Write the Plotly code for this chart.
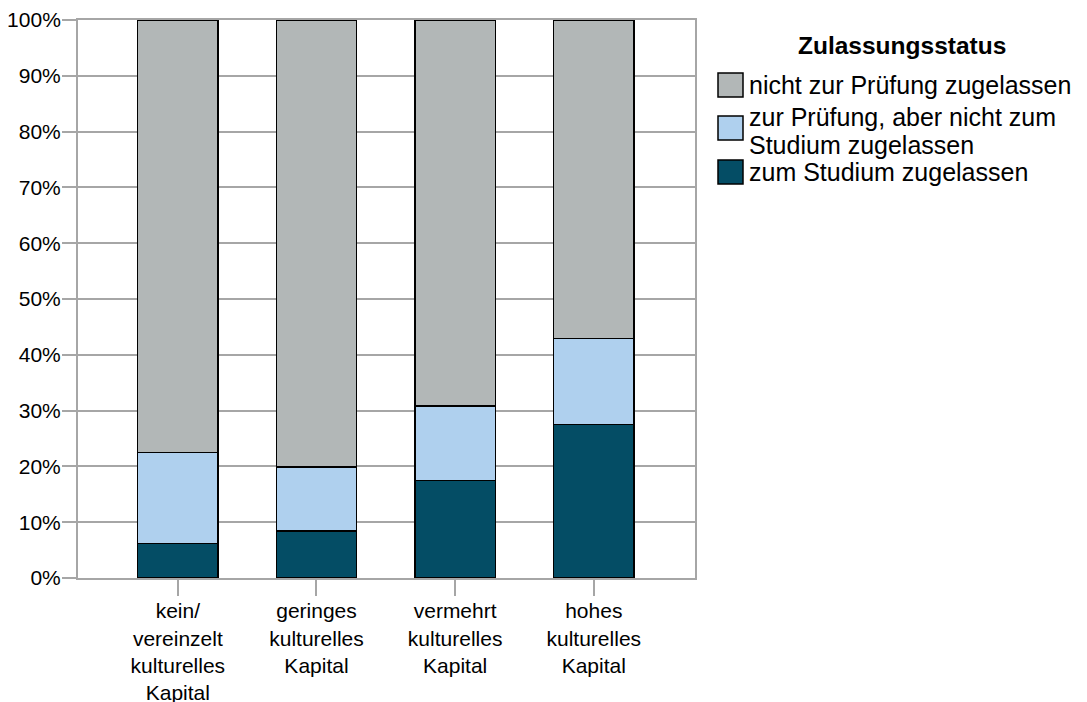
import plotly.graph_objects as go

categories = ["kein/<br>vereinzelt<br>kulturelles<br>Kapital",
              "geringes<br>kulturelles<br>Kapital",
              "vermehrt<br>kulturelles<br>Kapital",
              "hohes<br>kulturelles<br>Kapital"]
series_names = ["zum Studium zugelassen",
                "zur Prüfung, aber nicht zum Studium zugelassen",
                "nicht zur Prüfung zugelassen"]
legend_lines = [["zum Studium zugelassen"],
                ["zur Prüfung, aber nicht zum", "Studium zugelassen"],
                ["nicht zur Prüfung zugelassen"]]
zum_studium = [6.2, 8.4, 17.5, 27.5]
zur_pruefung = [16.3, 11.5, 13.3, 15.4]
nicht_zugelassen = [77.5, 80.1, 69.2, 57.1]
colors = ["#044d65", "#afd0ee", "#b2b7b7"]
y_ticks = [0, 10, 20, 30, 40, 50, 60, 70, 80, 90, 100]
y_tick_labels = ["0%", "10%", "20%", "30%", "40%", "50%", "60%", "70%", "80%", "90%", "100%"]
legend_title = "Zulassungsstatus"

FONT = "Liberation Sans, Arial, sans-serif"
W, H = 1087, 702
# page body has an 8px margin, so figure px = window px - 8
L, T = 70, 12
pw, ph = 617, 558
R, B = W - L - pw, H - T - ph

fig = go.Figure()
x_idx = list(range(len(categories)))
for name, vals, col in zip(series_names, [zum_studium, zur_pruefung, nicht_zugelassen], colors):
    fig.add_trace(go.Bar(x=x_idx, y=vals, name=name, marker_color=col,
                         marker_line_color="black", marker_line_width=1.5,
                         width=0.58, showlegend=False))

# manual legend: window-pixel layout converted to paper coords
PX0, PY0 = 78, 578
def px(x):
    return (x - PX0) / pw
def py(y):
    return (PY0 - y) / ph

shapes = []
annotations = [dict(text="<b>" + legend_title + "</b>", x=px(902), y=py(45), xref="paper", yref="paper",
                    showarrow=False, xanchor="center", yanchor="middle",
                    font=dict(family=FONT, size=24.5, color="black"))]
legend_order = [2, 1, 0]
swatch_centers = [85, 128, 172]
text_centers = [[85], [117, 145], [172]]
for k, c, tcs in zip(legend_order, swatch_centers, text_centers):
    shapes.append(dict(type="rect", xref="paper", yref="paper",
                       x0=px(718), x1=px(743), y0=py(c - 12), y1=py(c + 12),
                       fillcolor=colors[k], line=dict(color="black", width=1.5)))
    for line, tc in zip(legend_lines[k], tcs):
        annotations.append(dict(text=line, x=px(747), y=py(tc), xref="paper", yref="paper",
                                showarrow=False, xanchor="left", yanchor="middle", align="left",
                                font=dict(family=FONT, size=25, color="black")))

fig.update_layout(
    barmode="stack",
    width=W, height=H,
    margin=dict(l=L, r=R, t=T, b=B, autoexpand=False),
    paper_bgcolor="white", plot_bgcolor="white",
    font=dict(family=FONT, size=21, color="black"),
    shapes=shapes, annotations=annotations,
    xaxis=dict(tickmode="array", tickvals=x_idx, ticktext=categories,
               range=[-0.72, 3.73], ticks="outside", ticklen=16, tickwidth=2,
               tickcolor="#a6a6a6", showline=True, linecolor="#a6a6a6", linewidth=2,
               mirror=True, showgrid=False, tickangle=0, ticklabelstandoff=-3,
               tickfont=dict(family=FONT, size=21, color="black")),
    yaxis=dict(range=[0, 100], tickmode="array", tickvals=y_ticks, ticktext=y_tick_labels,
               ticks="outside", ticklen=14, tickwidth=2, tickcolor="#a6a6a6",
               showgrid=True, gridcolor="#a6a6a6", gridwidth=2,
               showline=True, linecolor="#a6a6a6", linewidth=2, mirror=True,
               zeroline=False, ticklabelstandoff=-3,
               tickfont=dict(family=FONT, size=21, color="black")),
)
fig.write_html("out.html")
